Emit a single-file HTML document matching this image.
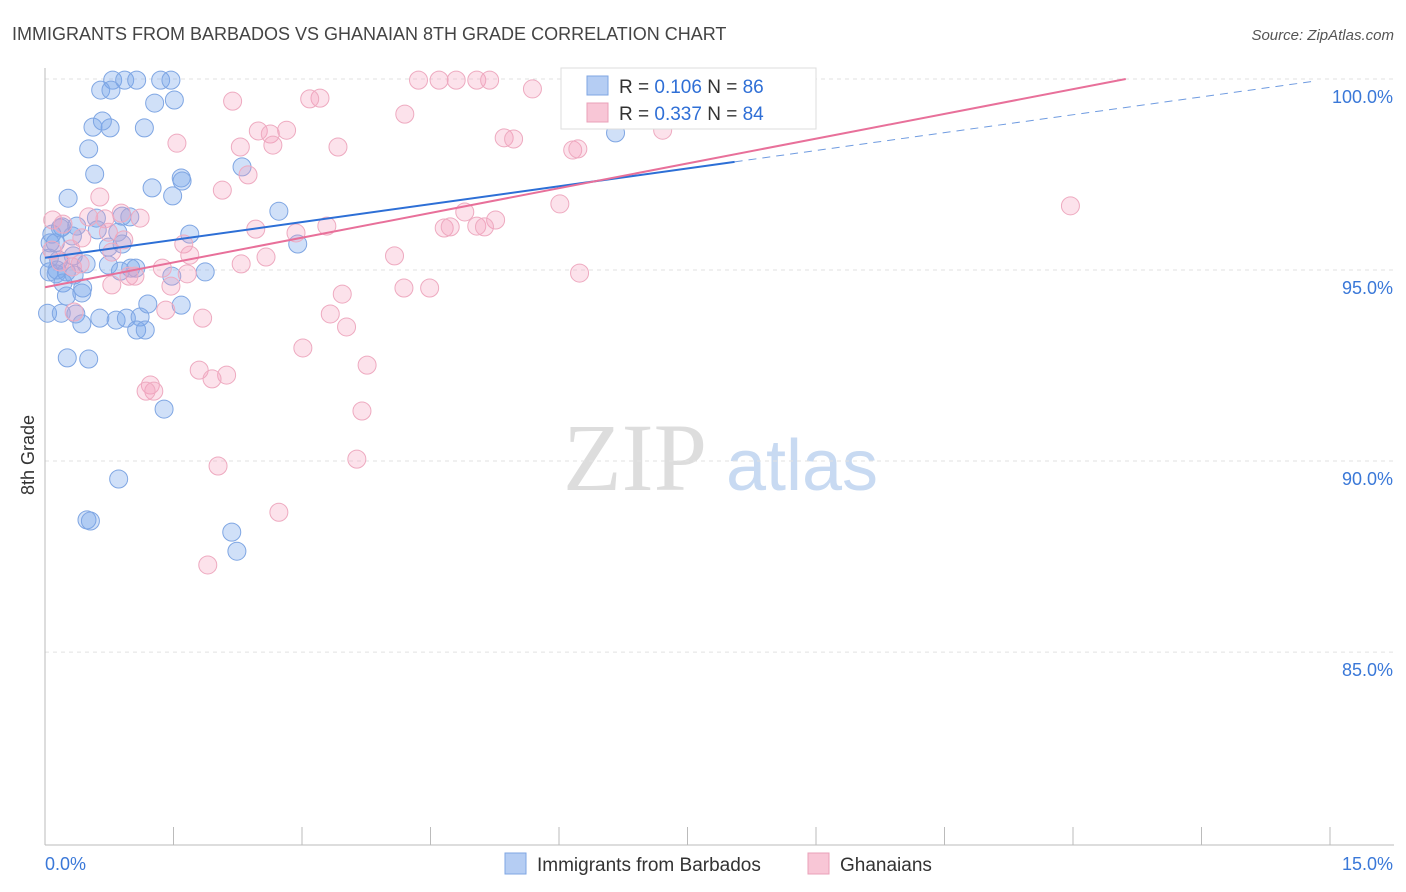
<!DOCTYPE html>
<html><head><meta charset="utf-8"><style>
body{margin:0;background:#fff;font-family:"Liberation Sans",sans-serif;}
svg{display:block}
</style></head><body>
<svg id="c" width="1406" height="892" viewBox="0 0 1406 892">
<text x="12" y="40" font-size="18" fill="#444">IMMIGRANTS FROM BARBADOS VS GHANAIAN 8TH GRADE CORRELATION CHART</text>
<text x="1394" y="40" font-size="15" fill="#555" font-style="italic" text-anchor="end">Source: ZipAtlas.com</text>
<text x="34" y="455" font-size="18" fill="#333" transform="rotate(-90 34 455)" text-anchor="middle">8th Grade</text>
<g>
<text x="635" y="490" font-size="96" fill="#ddd" font-family="Liberation Serif,serif" text-anchor="middle">ZIP</text>
<text x="802" y="490" font-size="72" fill="#c8daf2" text-anchor="middle">atlas</text>
</g>
<g id="grid"></g><g id="axes"></g><g id="pts"></g><g id="lines"></g>
<g>
<rect x="561" y="68" width="255" height="61" fill="#fff" stroke="#ddd"/>
<rect x="587" y="76" width="21" height="19" fill="#b5cdf3" stroke="#7fa6e3"/>
<rect x="587" y="103" width="21" height="19" fill="#f8c6d6" stroke="#eaa0b8"/>
<text x="619" y="93" font-size="19" fill="#333">R = <tspan fill="#2f6fd6">0.106</tspan>    N = <tspan fill="#2f6fd6">86</tspan></text>
<text x="619" y="120" font-size="19" fill="#333">R = <tspan fill="#2f6fd6">0.337</tspan>    N = <tspan fill="#2f6fd6">84</tspan></text>
</g>
<g>
<rect x="505" y="853" width="21" height="21" fill="#b5cdf3" stroke="#7fa6e3"/>
<text x="537" y="871" font-size="19" fill="#333">Immigrants from Barbados</text>
<rect x="808" y="853" width="21" height="21" fill="#f8c6d6" stroke="#eaa0b8"/>
<text x="840" y="871" font-size="19" fill="#333">Ghanaians</text>
</g>
</svg>
<script>
const xTickLabels=["0.0%","15.0%"];
const yTicks=[100,95,90,85];
const yTickLabels=["100.0%","95.0%","90.0%","85.0%"];
const blueX=[0.79,0.93,1.07,1.35,1.47,0.65,0.77,1.28,1.51,0.56,0.76,0.67,1.16,0.51,2.30,0.58,1.25,1.59,1.60,1.49,0.27,2.73,0.60,0.90,0.99,0.20,0.37,0.61,0.85,1.69,0.08,0.32,0.12,0.74,0.90,2.95,0.05,0.16,0.33,0.48,0.74,1.00,1.06,1.87,0.05,0.13,0.25,0.34,1.48,0.88,0.21,0.44,0.43,0.25,0.03,0.19,0.36,0.43,0.64,0.83,0.95,1.11,1.20,1.59,1.07,1.17,0.26,0.51,1.39,0.86,0.49,0.53,2.18,2.24,6.66,0.18,0.06,0.14];
const blueY=[99.97,99.97,99.97,99.97,99.97,99.71,99.71,99.37,99.45,98.74,98.72,98.90,98.72,98.17,97.70,97.51,97.15,97.41,97.33,96.94,96.88,96.54,96.36,96.41,96.39,96.13,96.15,96.05,95.99,95.94,95.94,95.89,95.71,95.60,95.68,95.68,95.31,95.26,95.37,95.16,95.13,95.05,95.05,94.95,94.95,94.90,94.95,94.87,94.84,94.97,94.66,94.53,94.40,94.32,93.87,93.87,93.85,93.59,93.74,93.69,93.74,93.77,94.11,94.08,93.43,93.43,92.70,92.67,91.36,89.53,88.46,88.43,88.14,87.64,98.59,96.10,95.71,95.00];
const pinkX=[4.36,4.60,4.80,5.04,5.19,6.90,5.69,3.21,3.09,2.19,4.20,2.49,2.63,2.82,5.36,5.47,1.54,2.66,3.42,6.16,6.22,7.21,2.28,2.37,2.07,0.64,6.01,11.97,4.90,0.89,1.11,0.09,0.21,0.51,0.70,4.66,4.73,5.26,5.04,5.13,2.46,3.29,2.93,0.43,0.92,1.62,0.78,1.69,0.30,2.58,4.08,2.29,0.32,1.37,1.66,1.05,0.98,6.24,4.19,4.49,0.78,3.47,1.47,3.33,3.52,0.34,1.84,1.41,3.01,3.76,1.80,2.12,1.95,1.23,1.27,1.18,3.70,3.64,2.02,2.73,1.90,0.08,0.18,0.41,0.74];
const pinkY=[99.97,99.97,99.97,99.97,99.97,99.97,99.74,99.50,99.48,99.42,99.08,98.64,98.56,98.66,98.46,98.43,98.32,98.27,98.22,98.14,98.17,98.66,98.22,97.49,97.09,96.91,96.73,96.68,96.52,96.49,96.36,96.31,96.20,96.39,96.34,96.10,96.13,96.31,96.15,96.13,96.07,96.15,95.97,95.84,95.79,95.68,95.47,95.39,95.55,95.34,95.37,95.16,95.08,95.05,94.90,94.84,94.84,94.92,94.53,94.53,94.61,94.37,94.58,93.85,93.51,93.90,93.74,93.95,92.96,92.51,92.38,92.25,92.15,91.99,91.83,91.83,91.31,90.05,89.87,88.66,87.28,95.52,95.21,95.16,95.99];
const blueTrend=[95.32,0.312];
const pinkTrend=[94.55,0.432];
const X0=45,X1=1330,Y0=79,Y1=845,XMIN=0,XMAX=15,YMIN=79.95,YMAX=100;
const sx=v=>X0+(v-XMIN)/(XMAX-XMIN)*(X1-X0);
const sy=v=>Y0+(YMAX-v)/(YMAX-YMIN)*(Y1-Y0);
const NS="http://www.w3.org/2000/svg";
function mk(tag,attrs,parent){const e=document.createElementNS(NS,tag);for(const k in attrs)e.setAttribute(k,attrs[k]);parent.appendChild(e);return e;}
const grid=document.getElementById('grid'),axes=document.getElementById('axes'),pts=document.getElementById('pts'),lines=document.getElementById('lines');
yTicks.forEach((t,i)=>{
 const l=mk('line',{x1:X0,x2:1394,y1:sy(t),y2:sy(t),stroke:'#e2e2e2','stroke-dasharray':'4,4'},grid);
 
 
 const tx=mk('text',{x:1393,y:sy(t)+24,'font-size':18,fill:'#3a78d8','text-anchor':'end'},axes);
 tx.textContent=yTickLabels[i];
 
 
});
const ax=mk('line',{x1:X0,x2:1394,y1:Y1,y2:Y1,stroke:'#bbb'},axes);


const ay=mk('line',{x1:X0,x2:X0,y1:68,y2:Y1,stroke:'#bbb'},axes);


for(let i=0;i<=10;i++){
 const t=mk('line',{x1:sx(i*1.5),x2:sx(i*1.5),y1:Y1,y2:Y1-18,stroke:'#bbb'},axes);
 
 
}
const xl0=mk('text',{x:45,y:870,'font-size':18,fill:'#3a78d8'},axes);xl0.textContent=xTickLabels[0];


const xl1=mk('text',{x:1393,y:870,'font-size':18,fill:'#3a78d8','text-anchor':'end'},axes);xl1.textContent=xTickLabels[1];


blueX.forEach((x,i)=>{
 const c=mk('circle',{cx:sx(x),cy:sy(blueY[i]),r:9,fill:'rgba(120,165,235,0.35)',stroke:'#7fa6e3','stroke-width':1},pts);
 
 
});
pinkX.forEach((x,i)=>{
 const c=mk('circle',{cx:sx(x),cy:sy(pinkY[i]),r:9,fill:'rgba(244,160,190,0.3)',stroke:'#eeaac0','stroke-width':1},pts);
 
 
});
const bl=mk('line',{x1:sx(0),y1:sy(blueTrend[0]),x2:sx(8.05),y2:sy(blueTrend[0]+blueTrend[1]*8.05),stroke:'#2d6fd6','stroke-width':2},lines);


const bd=mk('line',{x1:sx(8.05),y1:sy(blueTrend[0]+blueTrend[1]*8.05),x2:sx(14.8),y2:sy(blueTrend[0]+blueTrend[1]*14.8),stroke:'#6f9be0','stroke-width':1,'stroke-dasharray':'8,6'},lines);


const xe=(100-pinkTrend[0])/pinkTrend[1];
const pl=mk('line',{x1:sx(0),y1:sy(pinkTrend[0]),x2:sx(xe),y2:sy(100),stroke:'#e8709a','stroke-width':2},lines);


</script>
</body></html>
